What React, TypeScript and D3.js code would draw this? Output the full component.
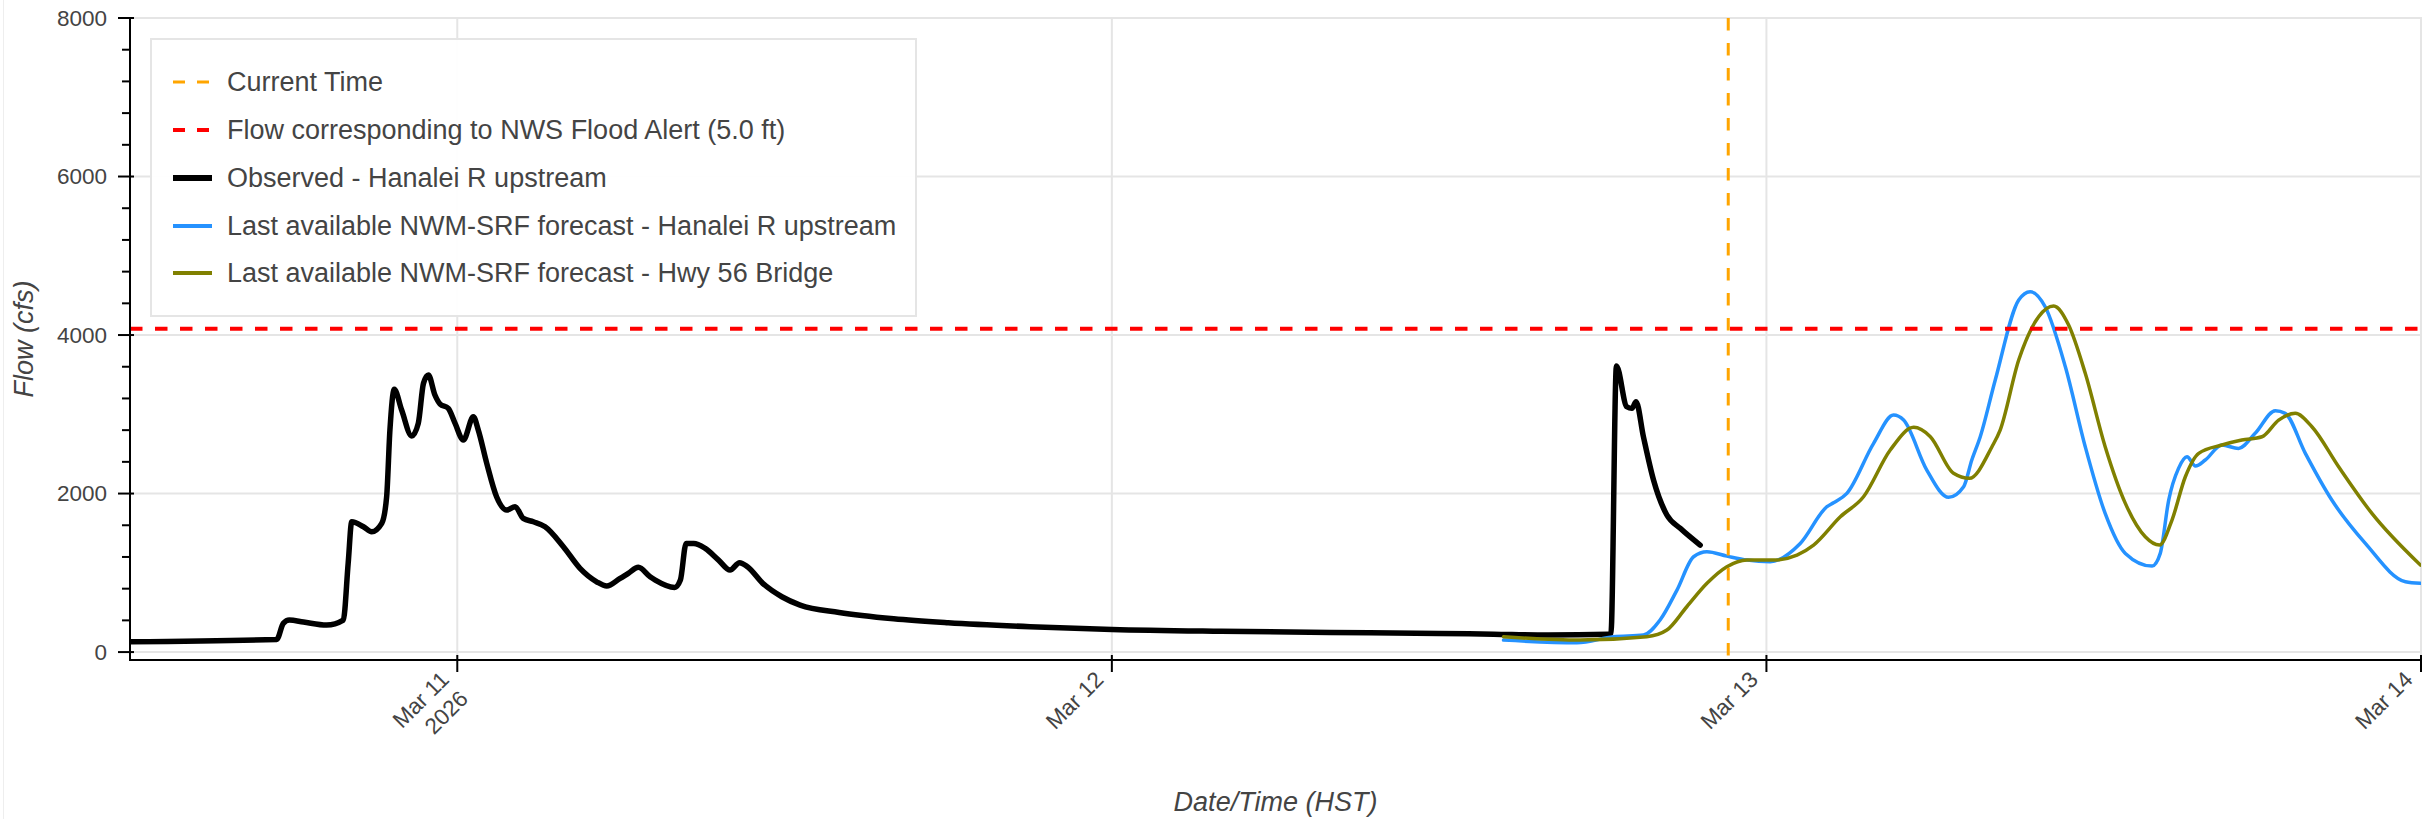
import React from 'react';
import * as d3 from 'd3';

// Hours after 2026-03-10 00:00 HST
const obsHours = [12, 17.38, 17.62, 17.84, 18.36, 19.21, 19.82, 20.0, 20.13, 20.56, 20.86, 21.23, 21.41, 21.53, 21.69, 21.96, 22.33, 22.57, 22.76, 22.94, 23.18, 23.37, 23.67, 23.92, 24.22, 24.59, 24.77, 25.08, 25.44, 25.81, 26.12, 26.42, 26.79, 27.22, 27.89, 28.5, 29.11, 29.48, 29.97, 30.27, 30.64, 31.07, 31.26, 31.97, 32.18, 32.39, 32.67, 33.09, 33.58, 34.0, 34.35, 34.64, 35.2, 35.9, 36.57, 38.0, 40.0, 42.0, 45.0, 48.0, 52.0, 56.0, 60.0, 62.0, 64.0, 66.2, 66.3, 66.5, 66.88, 67.07, 67.22, 67.49, 67.86, 68.35, 68.84, 69.57];
const obsFlow = [130, 160, 362, 404, 379, 341, 404, 1123, 1644, 1581, 1518, 1624, 1960, 2801, 3315, 3054, 2726, 2886, 3390, 3495, 3243, 3129, 3075, 2886, 2675, 2969, 2801, 2381, 1960, 1792, 1834, 1687, 1644, 1581, 1329, 1056, 887, 833, 930, 993, 1069, 950, 908, 816, 908, 1371, 1371, 1308, 1161, 1035, 1127, 1076, 867, 698, 593, 500, 420, 370, 320, 285, 262, 248, 235, 225, 215, 225, 236, 3609, 3095, 3075, 3158, 2717, 2170, 1729, 1561, 1350];

const srfUpHours = [62.36, 65.05, 66.39, 67.49, 68.1, 68.72, 69.33, 69.82, 70.55, 71.29, 72.14, 73.24, 74.22, 74.46, 74.95, 75.93, 76.66, 77.03, 77.88, 78.68, 79.23, 79.53, 79.84, 80.39, 81.25, 81.67, 82.22, 82.96, 83.69, 84.42, 85.16, 86.14, 86.44, 86.75, 87.11, 87.42, 87.73, 88.09, 88.7, 89.31, 89.92, 90.66, 91.02, 91.76, 92.73, 93.96, 95.43, 95.98];
const srfUpFlow = [151, 117, 193, 215, 404, 782, 1203, 1266, 1211, 1161, 1140, 1371, 1834, 1884, 2003, 2634, 2991, 2928, 2297, 1952, 2086, 2423, 2717, 3432, 4442, 4547, 4357, 3600, 2591, 1750, 1245, 1085, 1245, 1918, 2318, 2464, 2347, 2423, 2612, 2570, 2760, 3045, 3012, 2507, 1918, 1371, 887, 867];

const srfHwyHours = [62.36, 65.17, 67.61, 68.35, 69.08, 69.82, 70.55, 71.29, 72.26, 73.12, 73.73, 74.71, 75.56, 76.54, 77.4, 78.01, 78.86, 79.44, 80.27, 80.57, 81.25, 81.98, 82.53, 83.08, 83.69, 84.42, 85.16, 85.89, 86.41, 86.87, 87.36, 87.85, 88.7, 89.43, 90.17, 90.78, 91.39, 92.0, 92.98, 94.2, 95.98];
const srfHwyFlow = [193, 151, 193, 278, 572, 867, 1076, 1161, 1161, 1224, 1350, 1707, 1960, 2549, 2835, 2717, 2255, 2192, 2591, 2801, 3685, 4231, 4366, 4126, 3517, 2591, 1876, 1455, 1350, 1666, 2212, 2507, 2612, 2675, 2717, 2927, 3012, 2843, 2338, 1750, 1098];

const currentTimeHour = 70.6;
const floodAlertFlow = 4080;
const yMajorTicks = [0, 2000, 4000, 6000, 8000];
const xDomainHours = [12, 96];
const yDomain = [-100, 8000];

const legendLabels = [
  'Current Time',
  'Flow corresponding to NWS Flood Alert (5.0 ft)',
  'Observed - Hanalei R upstream',
  'Last available NWM-SRF forecast - Hanalei R upstream',
  'Last available NWM-SRF forecast - Hwy 56 Bridge',
];

const W = 2427, H = 819;
const L = 130, R = 2421, T = 18, B = 660;
const base = Date.UTC(2026, 2, 10);
const toDate = (h: number) => new Date(base + h * 3600e3);
const FONT = '"Liberation Sans", Arial, Helvetica, sans-serif';
const TXT = '#444444';

export default function App() {
  const x = d3.scaleUtc().domain(xDomainHours.map(toDate)).range([L, R]);
  const y = d3.scaleLinear().domain(yDomain).range([B, T]);
  const line = d3
    .line<[number, number]>()
    .x((d) => x(toDate(d[0])))
    .y((d) => y(d[1]))
    .curve(d3.curveMonotoneX);
  const zip = (a: number[], b: number[]) => a.map((h, i) => [h, b[i]] as [number, number]);

  const xTicks = x.ticks(d3.utcDay.every(1) as any);
  const fmt = d3.utcFormat('%b %d');
  const yMinor = d3.range(0, 8001, 400).filter((v) => !yMajorTicks.includes(v));
  const cx = x(toDate(currentTimeHour));
  const fy = y(floodAlertFlow);

  const legendRows = [82, 130, 178, 226, 273];
  const legendGlyphs = [
    { stroke: '#FFA500', w: 3, dash: '12 12' },
    { stroke: '#FF0000', w: 4, dash: '12 12' },
    { stroke: '#000000', w: 6, dash: undefined },
    { stroke: '#2592FF', w: 4, dash: undefined },
    { stroke: '#808000', w: 4, dash: undefined },
  ];

  return (
    <svg
      width={W}
      height={H}
      style={{ position: 'absolute', left: 0, top: 0, background: '#fff', fontFamily: FONT }}
    >
      <rect x={0} y={0} width={W} height={H} fill="#fff" />
      <line x1={3.5} x2={3.5} y1={0} y2={H} stroke="#eeeeee" strokeWidth={1} />
      <defs>
        <clipPath id="plot">
          <rect x={L} y={T} width={R - L} height={B - T} />
        </clipPath>
      </defs>
      {/* grid */}
      {xTicks.map((t, i) => (
        <line key={'gx' + i} x1={x(t)} x2={x(t)} y1={T} y2={B} stroke="#e5e5e5" strokeWidth={2} />
      ))}
      {yMajorTicks.map((v) => (
        <line key={'gy' + v} x1={L} x2={R} y1={y(v)} y2={y(v)} stroke="#e5e5e5" strokeWidth={2} />
      ))}
      {/* frame outline */}
      <rect x={L} y={T} width={R - L} height={B - T} fill="none" stroke="#e5e5e5" strokeWidth={2} />

      {/* series */}
      <g clipPath="url(#plot)" fill="none" strokeLinejoin="round" strokeLinecap="round">
        <path d={line(zip(obsHours, obsFlow)) || ''} stroke="#000" strokeWidth={5.5} />
        <path d={line(zip(srfUpHours, srfUpFlow)) || ''} stroke="#2592FF" strokeWidth={3.5} />
        <path d={line(zip(srfHwyHours, srfHwyFlow)) || ''} stroke="#808000" strokeWidth={3.5} />
      </g>

      {/* spans */}
      <line x1={L} x2={R} y1={fy} y2={fy} stroke="#FF0000" strokeWidth={4} strokeDasharray="12.5 12.5" />
      <line x1={cx} x2={cx} y1={T} y2={B} stroke="#FFA500" strokeWidth={3} strokeDasharray="12.5 12.5" />

      {/* y axis */}
      <line x1={L} x2={L} y1={T} y2={B + 1} stroke="#000" strokeWidth={2} />
      {yMajorTicks.map((v) => (
        <g key={'yt' + v}>
          <line x1={L - 12} x2={L + 4} y1={y(v)} y2={y(v)} stroke="#000" strokeWidth={2} />
          <text x={107} y={y(v)} dy="0.35em" textAnchor="end" fontSize={22.5} fill={TXT}>
            {v}
          </text>
        </g>
      ))}
      {yMinor.map((v) => (
        <line key={'ym' + v} x1={L - 8} x2={L} y1={y(v)} y2={y(v)} stroke="#000" strokeWidth={2} />
      ))}
      <text
        transform={`translate(33,${(T + B) / 2}) rotate(-90)`}
        textAnchor="middle"
        fontSize={27}
        fontStyle="italic"
        fill={TXT}
      >
        Flow (cfs)
      </text>

      {/* x axis */}
      <line x1={L - 1} x2={R} y1={B} y2={B} stroke="#000" strokeWidth={2} />
      {xTicks.map((t, i) => (
        <g key={'xt' + i}>
          <line x1={x(t)} x2={x(t)} y1={B - 5} y2={B + 12} stroke="#000" strokeWidth={2} />
          <text
            transform={`translate(${x(t) - 7},681) rotate(-45)`}
            textAnchor="end"
            fontSize={22.5}
            fill={TXT}
          >
            <tspan x={0} dy={0}>{fmt(t)}</tspan>
            {i === 0 ? (
              <tspan x={0} dy="1.2em">
                {d3.utcFormat('%Y')(t)}
              </tspan>
            ) : null}
          </text>
        </g>
      ))}
      <text x={(L + R) / 2} y={811} textAnchor="middle" fontSize={27} fontStyle="italic" fill={TXT}>
        Date/Time (HST)
      </text>

      {/* legend */}
      <rect x={151} y={39} width={765} height={277} fill="#fff" fillOpacity={0.95} stroke="#e5e5e5" strokeWidth={2} />
      {legendLabels.map((lab, i) => (
        <g key={'lg' + i}>
          <line
            x1={173}
            x2={212}
            y1={legendRows[i]}
            y2={legendRows[i]}
            stroke={legendGlyphs[i].stroke}
            strokeWidth={legendGlyphs[i].w}
            strokeDasharray={legendGlyphs[i].dash}
          />
          <text x={227} y={legendRows[i]} dy="0.35em" fontSize={27} fill={TXT}>
            {lab}
          </text>
        </g>
      ))}
    </svg>
  );
}
